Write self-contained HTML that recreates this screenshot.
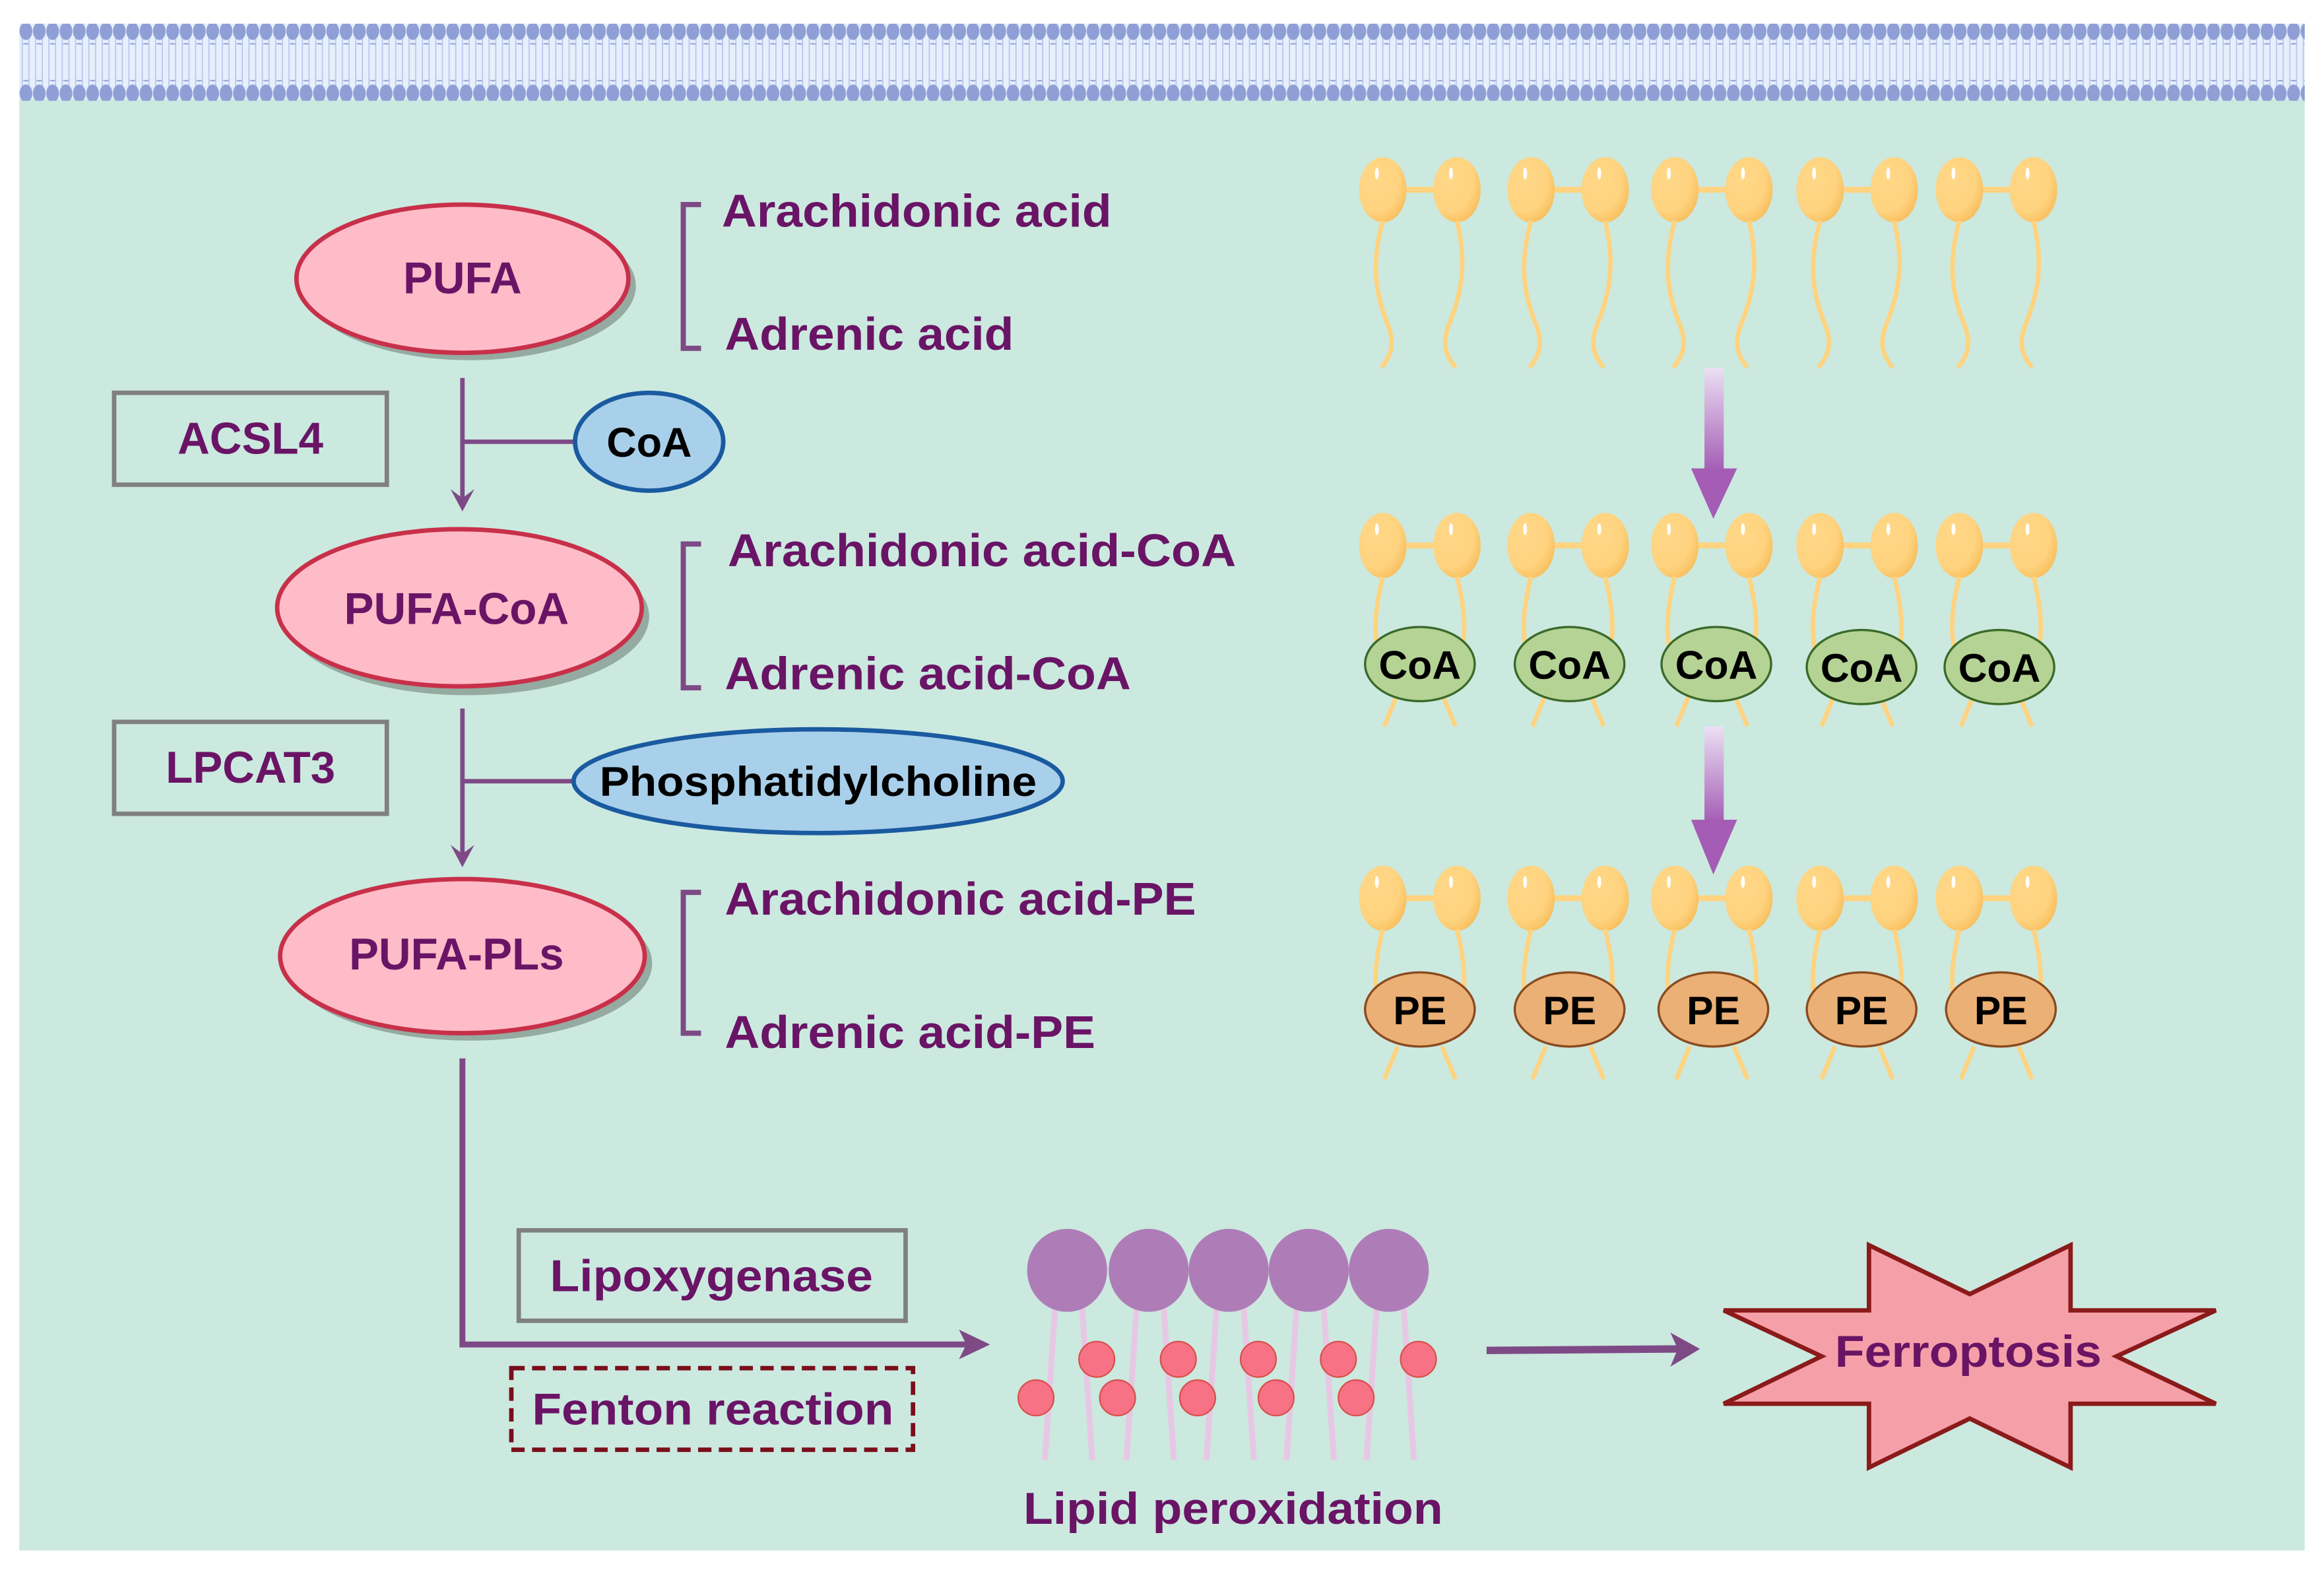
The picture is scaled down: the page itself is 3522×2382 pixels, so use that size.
<!DOCTYPE html>
<html><head><meta charset="utf-8"><style>
html,body{margin:0;padding:0;background:#fff;}
svg{display:block;}
text{font-family:"Liberation Sans",Arial,sans-serif;font-weight:bold;}
</style></head><body>
<svg width="3522" height="2382" viewBox="0 0 1568 1060.5" preserveAspectRatio="none" xmlns="http://www.w3.org/2000/svg">
<defs>
<pattern id="mh" x="13" y="0" width="9" height="14" patternUnits="userSpaceOnUse">
<ellipse cx="4.5" cy="7" rx="4.3" ry="6" fill="#8f9fd6"/>
</pattern>
<pattern id="ml" x="13" y="0" width="4.5" height="30" patternUnits="userSpaceOnUse">
<line x1="2" y1="0" x2="2" y2="30" stroke="#b8c6ee" stroke-width="0.8"/>
</pattern>
<linearGradient id="ga" x1="0" y1="0" x2="0" y2="1">
<stop offset="0" stop-color="#ece0f4"/><stop offset="1" stop-color="#a45cb4"/>
</linearGradient>
<radialGradient id="hd" cx="0.35" cy="0.35" r="0.7">
<stop offset="0" stop-color="#ffd888"/><stop offset="0.7" stop-color="#ffd37f"/><stop offset="1" stop-color="#f8c060"/>
</radialGradient>
<g id="heads">
<line x1="-25" y1="0" x2="25" y2="0" stroke="#ffd37f" stroke-width="4"/>
<ellipse cx="-25" cy="0" rx="16" ry="22" fill="url(#hd)"/>
<ellipse cx="25" cy="0" rx="16" ry="22" fill="url(#hd)"/>
<ellipse cx="-29" cy="-11" rx="1.3" ry="4" fill="#fff"/>
<ellipse cx="21" cy="-11" rx="1.3" ry="4" fill="#fff"/>
</g>
<g id="lip1">
<use href="#heads"/>
<path d="M-25,21 C-33,50 -30,70 -22,90 C-16,105 -20,112 -26,120" fill="none" stroke="#ffd37f" stroke-width="3"/>
<path d="M25,21 C32,50 28,70 20,90 C14,105 18,112 24,120" fill="none" stroke="#ffd37f" stroke-width="3"/>
</g>
<g id="lip2">
<use href="#heads"/>
<path d="M-25,21 C-31,45 -32,65 -25,80" fill="none" stroke="#ffd37f" stroke-width="3"/>
<path d="M25,21 C31,45 32,65 25,80" fill="none" stroke="#ffd37f" stroke-width="3"/>
<path d="M-15,100 L-24,122 M15,100 L24,122" fill="none" stroke="#ffd37f" stroke-width="3"/>
</g>
</defs>

<rect x="13" y="16" width="1542" height="1030" fill="#cbe9df"/>
<!-- membrane -->
<rect x="13" y="16" width="1542" height="51" fill="#e6f0fc"/>
<rect x="13" y="24" width="1542" height="36" fill="url(#ml)"/>
<rect x="13" y="16" width="1542" height="14" fill="url(#mh)"/>
<rect x="13" y="54" width="1542" height="14" fill="url(#mh)"/>

<!-- ellipses -->
<ellipse cx="317" cy="193" rx="112" ry="50" fill="#95aaa0"/>
<ellipse cx="312" cy="188" rx="112" ry="50" fill="#fdbcc8" stroke="#c8304a" stroke-width="3"/>
<text x="312" y="198" font-size="30" fill="#6a1466" text-anchor="middle">PUFA</text>

<ellipse cx="315" cy="416" rx="123" ry="53" fill="#95aaa0"/>
<ellipse cx="310" cy="410" rx="123" ry="53" fill="#fdbcc8" stroke="#c8304a" stroke-width="3"/>
<text x="308" y="421" font-size="30" fill="#6a1466" text-anchor="middle">PUFA-CoA</text>

<ellipse cx="317" cy="650" rx="123" ry="52" fill="#95aaa0"/>
<ellipse cx="312" cy="645" rx="123" ry="52" fill="#fdbcc8" stroke="#c8304a" stroke-width="3"/>
<text x="308" y="654" font-size="30" fill="#6a1466" text-anchor="middle">PUFA-PLs</text>

<!-- boxes -->
<rect x="77" y="265" width="184" height="62" fill="none" stroke="#808080" stroke-width="3"/>
<text x="169" y="306" font-size="30" fill="#6a1466" text-anchor="middle">ACSL4</text>
<rect x="77" y="487" width="184" height="62" fill="none" stroke="#808080" stroke-width="3"/>
<text x="169" y="528" font-size="30" fill="#6a1466" text-anchor="middle">LPCAT3</text>

<!-- connectors -->
<g stroke="#7e4a86" stroke-width="3" fill="none">
<line x1="312" y1="255" x2="312" y2="338"/>
<line x1="312" y1="298" x2="388" y2="298"/>
<line x1="312" y1="478" x2="312" y2="578"/>
<line x1="312" y1="527" x2="386" y2="527"/>
<path d="M312,714 L312,907 L655,907" stroke-width="4"/>
<path d="M1003,911 L1135,910" stroke-width="5"/>
</g>
<polygon points="304,330 312,345 320,330 312,336" fill="#7e4a86"/>
<polygon points="304,570 312,585 320,570 312,576" fill="#7e4a86"/>
<polygon points="647,897 668,907 647,917 652,907" fill="#7e4a86"/>
<polygon points="1127,899 1147,910 1127,922 1132,910" fill="#7e4a86"/>

<ellipse cx="438" cy="298" rx="50" ry="33" fill="#a9d0ea" stroke="#1a5aa0" stroke-width="3"/>
<text x="438" y="308" font-size="28" fill="#000" text-anchor="middle">CoA</text>
<ellipse cx="552" cy="527" rx="165" ry="35" fill="#a9d0ea" stroke="#1a5aa0" stroke-width="3"/>
<text x="552" y="537" font-size="28" fill="#000" text-anchor="middle" textLength="295" lengthAdjust="spacingAndGlyphs">Phosphatidylcholine</text>

<!-- brackets -->
<g stroke="#7e4a86" stroke-width="3.5" fill="none">
<path d="M473,138 L461,138 L461,235 L473,235"/>
<path d="M473,367 L461,367 L461,464 L473,464"/>
<path d="M473,602 L461,602 L461,697 L473,697"/>
</g>
<g font-size="31" fill="#6a1466">
<text x="487" y="153" textLength="263" lengthAdjust="spacingAndGlyphs">Arachidonic acid</text>
<text x="489" y="236" textLength="195" lengthAdjust="spacingAndGlyphs">Adrenic acid</text>
<text x="491" y="382" textLength="343" lengthAdjust="spacingAndGlyphs">Arachidonic acid-CoA</text>
<text x="489" y="465" textLength="274" lengthAdjust="spacingAndGlyphs">Adrenic acid-CoA</text>
<text x="489" y="617" textLength="318" lengthAdjust="spacingAndGlyphs">Arachidonic acid-PE</text>
<text x="489" y="707" textLength="250" lengthAdjust="spacingAndGlyphs">Adrenic acid-PE</text>
</g>

<!-- lipoxygenase / fenton -->
<rect x="350" y="830" width="261" height="61" fill="none" stroke="#808080" stroke-width="3"/>
<text x="480" y="871" font-size="30" fill="#6a1466" text-anchor="middle" textLength="218" lengthAdjust="spacingAndGlyphs">Lipoxygenase</text>
<rect x="345" y="923" width="271" height="55" fill="none" stroke="#7a0e1a" stroke-width="3" stroke-dasharray="9,5"/>
<text x="481" y="961" font-size="30" fill="#6a1466" text-anchor="middle" textLength="244" lengthAdjust="spacingAndGlyphs">Fenton reaction</text>

<!-- right lipids -->
<g>
<use href="#lip1" x="958" y="128"/><use href="#lip1" x="1058" y="128"/><use href="#lip1" x="1155" y="128"/><use href="#lip1" x="1253" y="128"/><use href="#lip1" x="1347" y="128"/>
<use href="#lip2" x="958" y="368"/><use href="#lip2" x="1058" y="368"/><use href="#lip2" x="1155" y="368"/><use href="#lip2" x="1253" y="368"/><use href="#lip2" x="1347" y="368"/>
<use href="#lip2" x="958" y="606"/><use href="#lip2" x="1058" y="606"/><use href="#lip2" x="1155" y="606"/><use href="#lip2" x="1253" y="606"/><use href="#lip2" x="1347" y="606"/>
</g>
<g fill="#b5d395" stroke="#3a6a2a" stroke-width="1.5">
<ellipse cx="958" cy="448" rx="37" ry="25"/><ellipse cx="1059" cy="448" rx="37" ry="25"/><ellipse cx="1158" cy="448" rx="37" ry="25"/><ellipse cx="1256" cy="450" rx="37" ry="25"/><ellipse cx="1349" cy="450" rx="37" ry="25"/>
</g>
<g font-size="27" fill="#000" text-anchor="middle">
<text x="958" y="458">CoA</text><text x="1059" y="458">CoA</text><text x="1158" y="458">CoA</text><text x="1256" y="460">CoA</text><text x="1349" y="460">CoA</text>
</g>
<g fill="#ebb075" stroke="#8a4a20" stroke-width="1.5">
<ellipse cx="958" cy="681" rx="37" ry="25"/><ellipse cx="1059" cy="681" rx="37" ry="25"/><ellipse cx="1156" cy="681" rx="37" ry="25"/><ellipse cx="1256" cy="681" rx="37" ry="25"/><ellipse cx="1350" cy="681" rx="37" ry="25"/>
</g>
<g font-size="27" fill="#000" text-anchor="middle">
<text x="958" y="691">PE</text><text x="1059" y="691">PE</text><text x="1156" y="691">PE</text><text x="1256" y="691">PE</text><text x="1350" y="691">PE</text>
</g>
<!-- gradient arrows -->
<rect x="1150" y="248" width="13" height="70" fill="url(#ga)"/>
<polygon points="1141,316 1172,316 1156,350" fill="#a45cb4"/>
<rect x="1150" y="490" width="13" height="65" fill="url(#ga)"/>
<polygon points="1141,553 1172,553 1156,590" fill="#a45cb4"/>

<!-- lipid peroxidation -->
<g stroke="#e6c8e4" stroke-width="4" fill="none">
<path d="M712,880 L705,985 M730,880 L737,985"/>
<path d="M767,880 L760,985 M785,880 L792,985"/>
<path d="M821,880 L814,985 M839,880 L846,985"/>
<path d="M875,880 L868,985 M893,880 L900,985"/>
<path d="M929,880 L922,985 M947,880 L954,985"/>
</g>
<g fill="#ae7db7">
<ellipse cx="720" cy="857" rx="27" ry="28"/><ellipse cx="775" cy="857" rx="27" ry="28"/><ellipse cx="829" cy="857" rx="27" ry="28"/><ellipse cx="883" cy="857" rx="27" ry="28"/><ellipse cx="937" cy="857" rx="27" ry="28"/>
</g>
<g fill="#f87286" stroke="#d8504a" stroke-width="1">
<ellipse cx="740" cy="917" rx="12" ry="12"/><ellipse cx="795" cy="917" rx="12" ry="12"/><ellipse cx="849" cy="917" rx="12" ry="12"/><ellipse cx="903" cy="917" rx="12" ry="12"/><ellipse cx="957" cy="917" rx="12" ry="12"/>
<ellipse cx="699" cy="943" rx="12" ry="12"/><ellipse cx="754" cy="943" rx="12" ry="12"/><ellipse cx="808" cy="943" rx="12" ry="12"/><ellipse cx="861" cy="943" rx="12" ry="12"/><ellipse cx="915" cy="943" rx="12" ry="12"/>
</g>
<text x="832" y="1028" font-size="30" fill="#6a1466" text-anchor="middle" textLength="283" lengthAdjust="spacingAndGlyphs">Lipid peroxidation</text>

<!-- star -->
<polygon points="1261,840 1329,873 1397,840 1397,884 1495,884 1428,915 1495,947 1397,947 1397,990 1329,957 1261,990 1261,947 1163,947 1229,915 1163,884 1261,884" fill="#f5a0a8" stroke="#8b1a1a" stroke-width="3"/>
<text x="1328" y="922" font-size="30" fill="#6a1466" text-anchor="middle" textLength="180" lengthAdjust="spacingAndGlyphs">Ferroptosis</text>
</svg>
</body></html>
